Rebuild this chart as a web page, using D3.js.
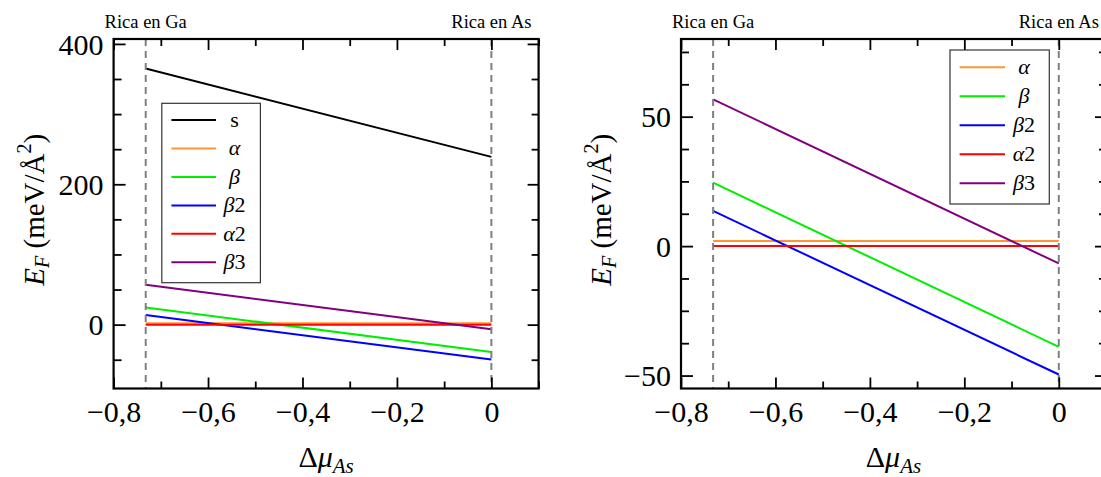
<!DOCTYPE html>
<html>
<head>
<meta charset="utf-8">
<script src="https://cdn.jsdelivr.net/npm/d3@7"></script>
<style>
  html, body { margin: 0; padding: 0; background: #fff; }
  svg { display: block; }
  text { font-family: "Liberation Serif", "DejaVu Serif", serif; fill: #000; }
</style>
</head>
<body>
<svg id="chart" width="1101" height="477"></svg>
<script>
// ---------- data ----------
const xEnds = [-0.732, 0];                 // Δμ_As range: Ga-rich to As-rich
const sVals      = [365, 239];
const alphaVals  = [2, 2];
const betaVals   = [24.5, -38.9];
const beta2Vals  = [13.6, -49.6];
const alpha2Vals = [0, 0];
const beta3Vals  = [56.7, -6.7];

const seriesNames  = ["s", "α", "β", "β2", "α2", "β3"];
const seriesColors = ["#000000", "#ff9433", "#00ee00", "#0000ff", "#ff0000", "#800080"];
const seriesValues = [sVals, alphaVals, betaVals, beta2Vals, alpha2Vals, beta3Vals];

const xDomain = [-0.8, 0.1];
const xMajor = [-0.8, -0.6, -0.4, -0.2, 0];
const xMajorLabels = ["−0,8", "−0,6", "−0,4", "−0,2", "0"];
const xMinor = [-0.7, -0.5, -0.3, -0.1, 0.1];

const leftYDomain = [-91, 407];
const leftYMajor = [0, 200, 400];
const leftYMajorLabels = ["0", "200", "400"];
const leftYMinor = [-50, 50, 100, 150, 250, 300, 350];

const rightYDomain = [-55, 80];
const rightYMajor = [-50, 0, 50];
const rightYMajorLabels = ["−50", "0", "50"];
const rightYMinor = [-37.5, -25, -12.5, 12.5, 25, 37.5, 62.5, 75];

const svg = d3.select("#chart");
const SERIF = "Liberation Serif";

function panel(cfg) {
  const x = d3.scaleLinear().domain(xDomain).range([cfg.x0, cfg.x1]);
  const y = d3.scaleLinear().domain(cfg.yDomain).range([cfg.y1, cfg.y0]);
  const g = svg.append("g");

  // series lines
  const line = d3.line().x(d => x(d[0])).y(d => y(d[1]));
  cfg.series.forEach(i => {
    const pts = xEnds.map((xv, k) => [xv, seriesValues[i][k]]);
    g.append("path").datum(pts).attr("d", line)
      .attr("fill", "none").attr("stroke", seriesColors[i]).attr("stroke-width", 2);
  });

  // dashed vertical lines
  xEnds.forEach(xv => {
    g.append("line").attr("x1", x(xv)).attr("x2", x(xv))
      .attr("y1", cfg.y0).attr("y2", cfg.y1)
      .attr("stroke", "#808080").attr("stroke-width", 2).attr("stroke-dasharray", "7,5");
  });

  // axes (ticks inward)
  const styleAxis = sel => {
    sel.attr("font-family", SERIF).attr("font-size", 30);
    sel.select(".domain").remove();
    sel.selectAll(".tick line").attr("stroke", "#000").attr("stroke-width", 1.8);
    return sel;
  };
  // bottom major
  const bx = styleAxis(g.append("g").attr("transform", `translate(0,${cfg.y1})`)
    .call(d3.axisBottom(x).tickValues(xMajor).tickSize(-11).tickFormat((d, i) => xMajorLabels[i])));
  bx.selectAll(".tick text").attr("y", 33).attr("dy", 0)
    .style("font-size", "30px").style("font-family", SERIF);
  // bottom minor
  styleAxis(g.append("g").attr("transform", `translate(0,${cfg.y1})`)
    .call(d3.axisBottom(x).tickValues(xMinor).tickSize(-7).tickFormat("")));
  // top major/minor
  styleAxis(g.append("g").attr("transform", `translate(0,${cfg.y0})`)
    .call(d3.axisTop(x).tickValues(xMajor).tickSize(-11).tickFormat("")));
  styleAxis(g.append("g").attr("transform", `translate(0,${cfg.y0})`)
    .call(d3.axisTop(x).tickValues(xMinor).tickSize(-7).tickFormat("")));
  // left major
  const ly = styleAxis(g.append("g").attr("transform", `translate(${cfg.x0},0)`)
    .call(d3.axisLeft(y).tickValues(cfg.yMajor).tickSize(-12).tickFormat((d, i) => cfg.yLabels[i])));
  ly.selectAll(".tick text").attr("x", -10).attr("dy", "0.34em")
    .style("font-size", "30px").style("font-family", SERIF);
  styleAxis(g.append("g").attr("transform", `translate(${cfg.x0},0)`)
    .call(d3.axisLeft(y).tickValues(cfg.yMinor).tickSize(-8).tickFormat("")));
  // right major/minor
  styleAxis(g.append("g").attr("transform", `translate(${cfg.x1},0)`)
    .call(d3.axisRight(y).tickValues(cfg.yMajor).tickSize(-11).tickFormat("")));
  styleAxis(g.append("g").attr("transform", `translate(${cfg.x1},0)`)
    .call(d3.axisRight(y).tickValues(cfg.yMinor).tickSize(-7).tickFormat("")));

  // frame
  g.append("rect").attr("x", cfg.x0).attr("y", cfg.y0)
    .attr("width", cfg.x1 - cfg.x0).attr("height", cfg.y1 - cfg.y0)
    .attr("fill", "none").attr("stroke", "#000").attr("stroke-width", 2.2);

  // top annotations
  g.append("text").attr("x", x(xEnds[0])).attr("y", 28).attr("text-anchor", "middle")
    .style("font-size", "18.5px").text("Rica en Ga");
  g.append("text").attr("x", x(xEnds[1])).attr("y", 28).attr("text-anchor", "middle")
    .style("font-size", "18.5px").text("Rica en As");

  // x label
  const xl = g.append("text").attr("x", (cfg.x0 + cfg.x1) / 2).attr("y", 467)
    .attr("text-anchor", "middle").style("font-size", "30px");
  xl.append("tspan").text("Δ");
  xl.append("tspan").style("font-style", "italic").text("μ");
  xl.append("tspan").style("font-style", "italic").style("font-size", "21px")
    .attr("dy", 6).text("As");

  // y label
  const yl = g.append("text")
    .attr("transform", `translate(${cfg.x0 - 70},${(cfg.y0 + cfg.y1) / 2 - 4}) rotate(-90)`)
    .attr("text-anchor", "middle").style("font-size", "29px");
  yl.append("tspan").style("font-style", "italic").text("E");
  yl.append("tspan").style("font-style", "italic").style("font-size", "20px").attr("dy", 5).text("F");
  yl.append("tspan").attr("dy", -5).text(" (meV/Å");
  yl.append("tspan").style("font-size", "20px").attr("dy", -13).text("2");
  yl.append("tspan").attr("dy", 13).text(")");

  // legend
  const L = cfg.legend;
  const lg = g.append("g");
  lg.append("rect").attr("x", L.x0).attr("y", L.y0).attr("width", L.x1 - L.x0).attr("height", L.y1 - L.y0)
    .attr("fill", "#fff").attr("stroke", "#333").attr("stroke-width", 1.2);
  cfg.series.forEach((si, k) => {
    const yy = L.firstRow + k * L.rowStep;
    lg.append("line").attr("x1", L.lx0).attr("x2", L.lx1).attr("y1", yy).attr("y2", yy)
      .attr("stroke", seriesColors[si]).attr("stroke-width", 2);
    const t = lg.append("text").attr("x", L.tx).attr("y", yy + 7).attr("text-anchor", "middle")
      .style("font-size", "22px");
    const name = seriesNames[si];
    if (name === "s") {
      t.text("s");
    } else {
      t.append("tspan").style("font-style", "italic").text(name[0]);
      if (name.length > 1) t.append("tspan").text(name.slice(1));
    }
  });
}

panel({
  x0: 113.6, x1: 538.6, y0: 39, y1: 388.5,
  yDomain: leftYDomain, yMajor: leftYMajor, yLabels: leftYMajorLabels, yMinor: leftYMinor,
  series: [0, 1, 2, 3, 4, 5],
  legend: { x0: 161.8, x1: 260.4, y0: 103.3, y1: 282.7, firstRow: 120, rowStep: 28.46,
            lx0: 171.4, lx1: 216, tx: 234.5 }
});

panel({
  x0: 681, x1: 1106, y0: 39, y1: 388.5,
  yDomain: rightYDomain, yMajor: rightYMajor, yLabels: rightYMajorLabels, yMinor: rightYMinor,
  series: [1, 2, 3, 4, 5],
  legend: { x0: 950, x1: 1049.3, y0: 50, y1: 204, firstRow: 67.3, rowStep: 29,
            lx0: 959.6, lx1: 1005, tx: 1024 }
});
</script>
</body>
</html>
